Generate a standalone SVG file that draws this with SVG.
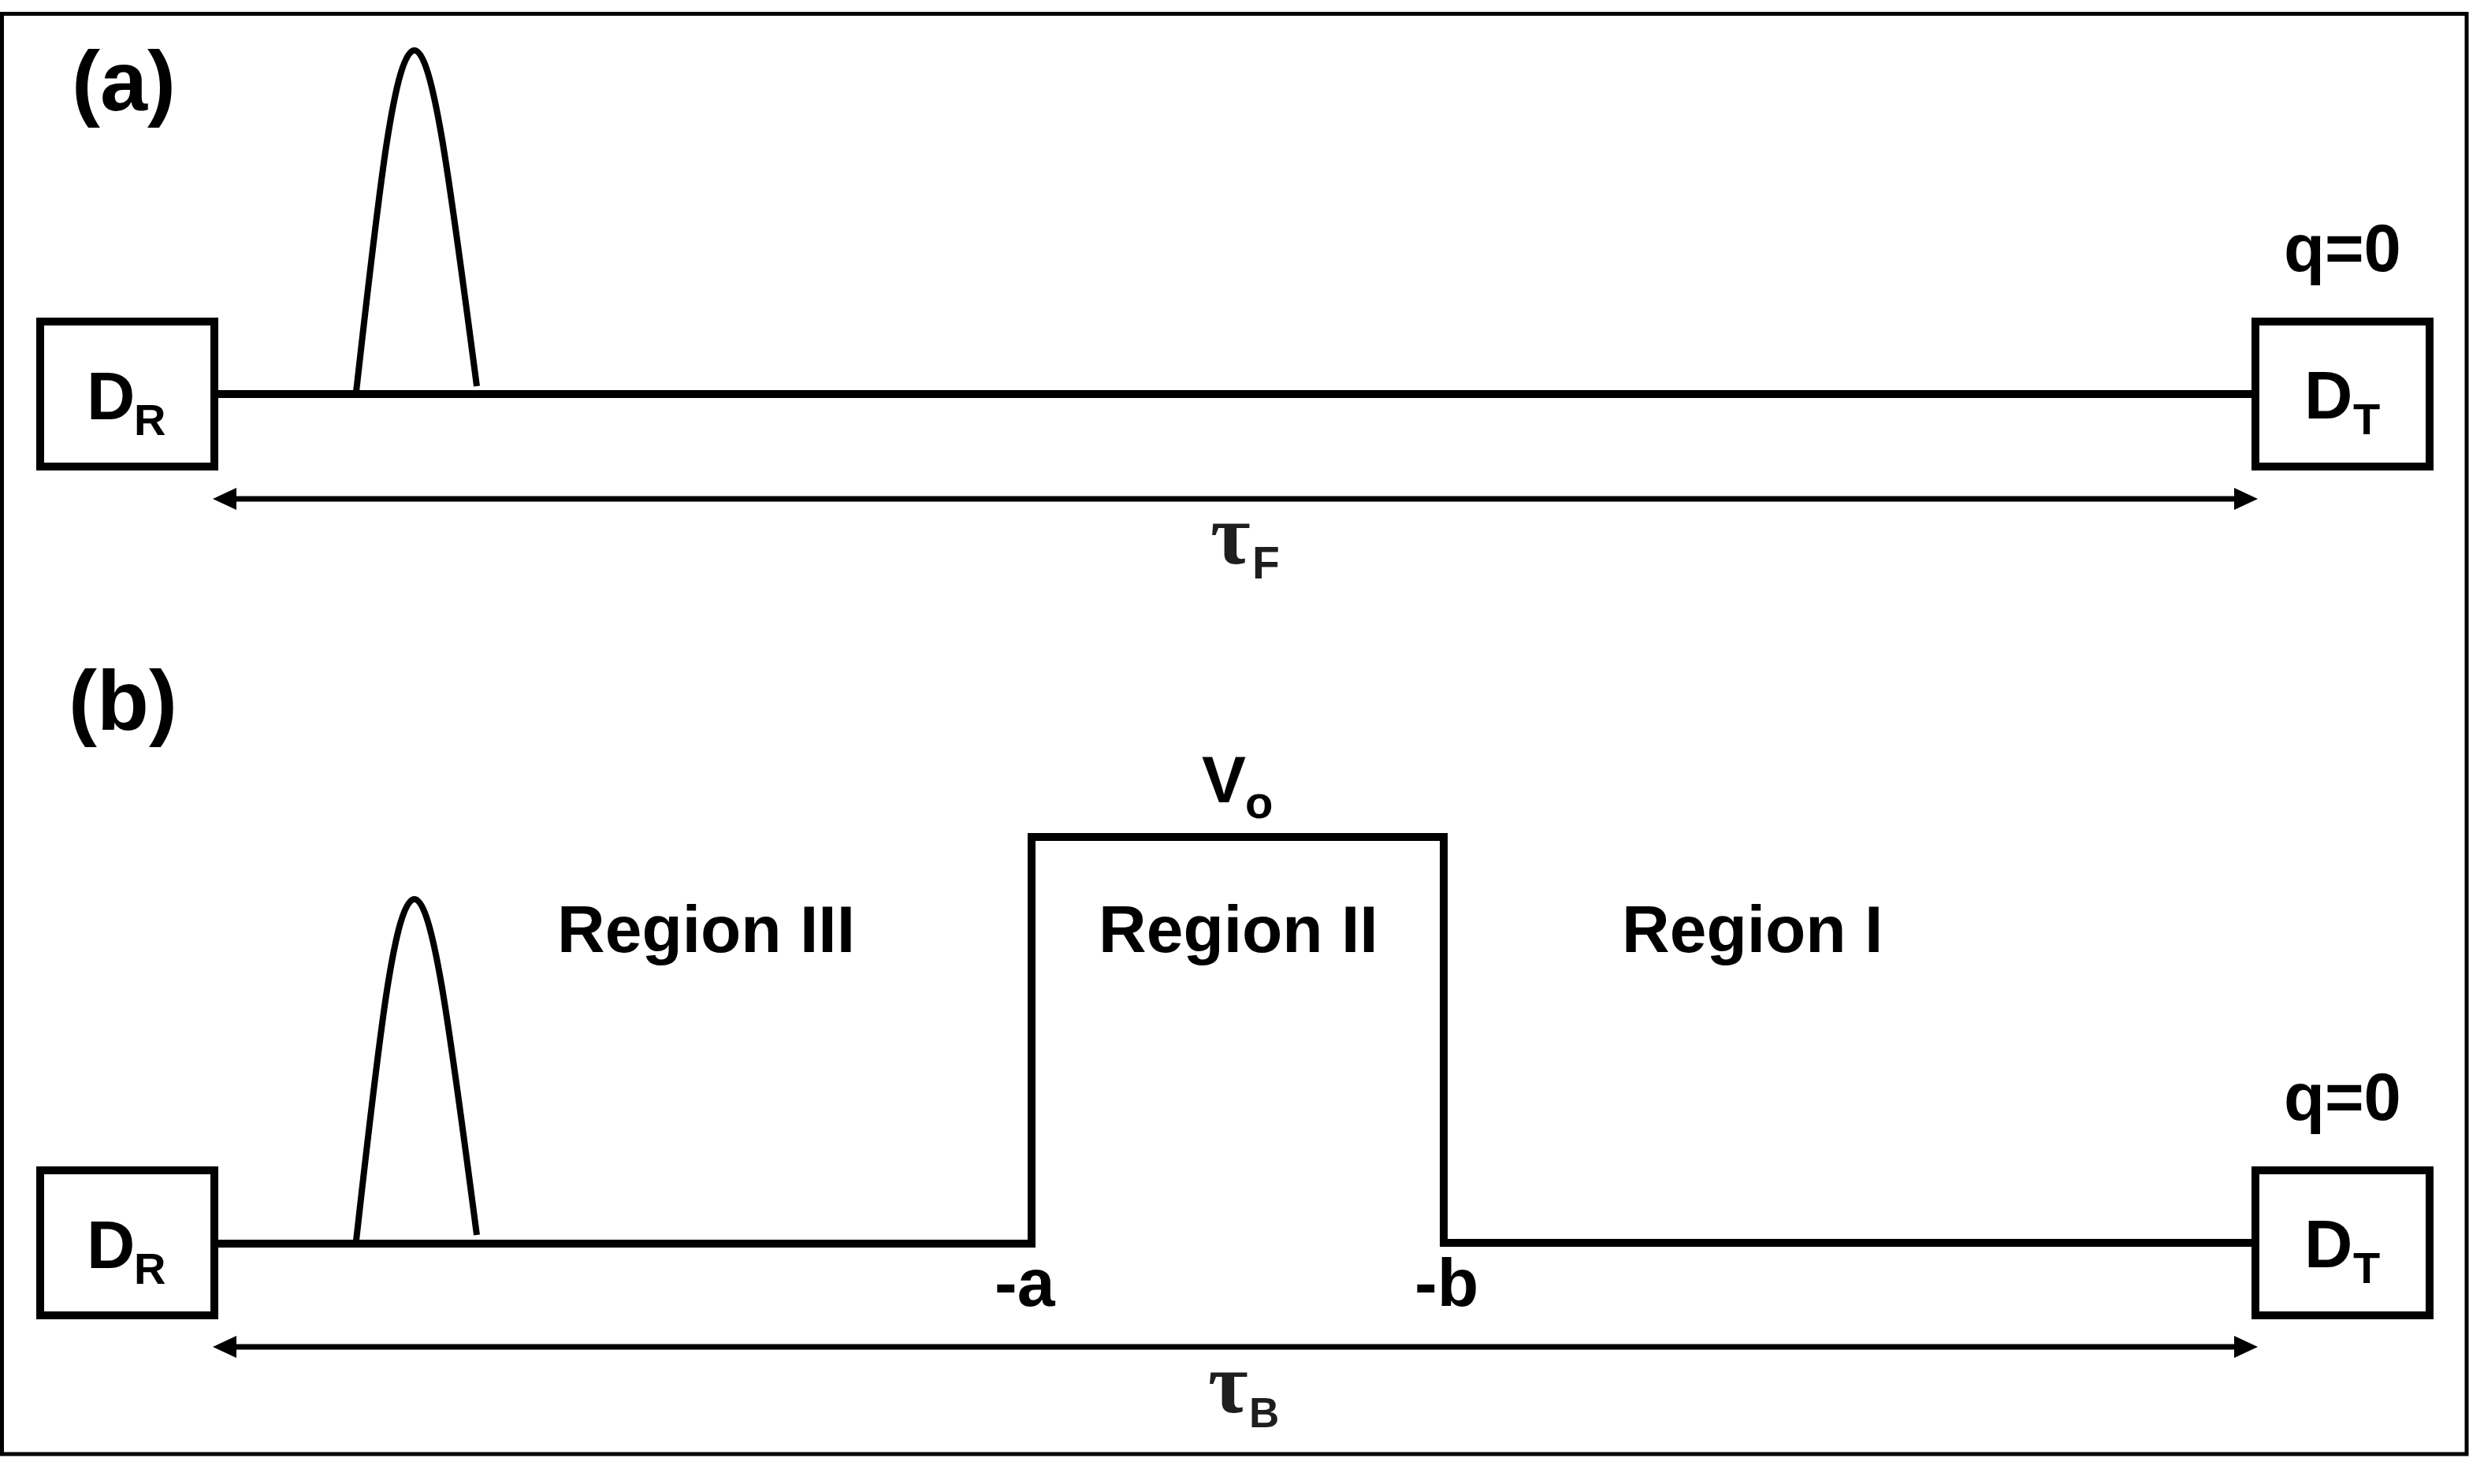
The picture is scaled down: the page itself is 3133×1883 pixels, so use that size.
<svg xmlns="http://www.w3.org/2000/svg" width="3133" height="1883" viewBox="0 0 3133 1883">
<style>
  .box { fill: #ffffff; stroke: #000000; stroke-width: 10; }
  .wire { fill: none; stroke: #000000; stroke-width: 10; stroke-linejoin: miter; stroke-linecap: butt; }
  .pulse { fill: none; stroke: #000000; stroke-width: 8; stroke-linecap: butt; }
  .dim { fill: none; stroke: #000000; stroke-width: 7; }
  .lbl { font-family: "Liberation Sans", Arial, sans-serif; font-weight: bold; fill: #000000; }
  .tau { font-family: "Liberation Serif", "Times New Roman", serif; font-weight: bold; fill: #1e1e1e; }
  .sub { font-family: "Liberation Sans", Arial, sans-serif; font-weight: bold; fill: #1e1e1e; }
</style>
<defs>
  <marker id="ah" markerUnits="userSpaceOnUse" markerWidth="30" markerHeight="30" viewBox="0 -13 28 26" refX="0" refY="0" orient="auto-start-reverse">
    <path d="M0,-13 L28,0 L0,13 Z" fill="#000000"/>
  </marker>
</defs>
<rect width="3133" height="1883" fill="#ffffff"/>
<rect id="frame" x="2.5" y="17.5" width="3127.5" height="1827.5" fill="none" stroke="#000000" stroke-width="5"/>

<g id="connectors">
  <path id="wire-a" class="wire" d="M277,500 H2857"/>
  <path id="wire-b" class="wire" d="M277,1578 H1309 V1062 H1832 V1577 H2862"/>
  <path id="pulse-a" class="pulse" d="M452,497 C480,250 500,64 526,64 C550,64 572,240 605,490"/>
  <path id="pulse-b" class="pulse" d="M452,1574 C480,1327 500,1141 526,1141 C550,1141 572,1317 605,1567"/>
  <path id="tauF-arrow" class="dim" d="M300,633 H2835" marker-start="url(#ah)" marker-end="url(#ah)"/>
  <path id="tauB-arrow" class="dim" d="M300,1709 H2835" marker-start="url(#ah)" marker-end="url(#ah)"/>
</g>

<g id="panel-a">
  <text id="label-a" class="lbl" x="91" y="140" font-size="108">(a)</text>
  <g id="DR-a">
    <rect class="box" x="51" y="408" width="221" height="184"/>
    <text class="lbl" x="110" y="532" font-size="85">D</text>
    <text class="lbl" x="170" y="552" font-size="56">R</text>
  </g>
  <g id="DT-a">
    <rect class="box" x="2862" y="408" width="221" height="184"/>
    <text class="lbl" x="2924" y="531" font-size="85">D</text>
    <text class="lbl" x="2986" y="551" font-size="56">T</text>
  </g>
  <text id="q0-a" class="lbl" x="2898" y="344" font-size="85">q=0</text>
  <g id="tauF">
    <text class="tau" x="1536" y="715" font-size="110">τ</text>
    <text class="sub" x="1589" y="734" font-size="57">F</text>
  </g>
</g>

<g id="panel-b">
  <text id="label-b" class="lbl" x="87" y="926" font-size="108">(b)</text>
  <g id="DR-b">
    <rect class="box" x="51" y="1485" width="221" height="184"/>
    <text class="lbl" x="110" y="1609" font-size="85">D</text>
    <text class="lbl" x="170" y="1629" font-size="56">R</text>
  </g>
  <g id="DT-b">
    <rect class="box" x="2862" y="1485" width="221" height="184"/>
    <text class="lbl" x="2924" y="1608" font-size="85">D</text>
    <text class="lbl" x="2986" y="1628" font-size="56">T</text>
  </g>
  <text id="q0-b" class="lbl" x="2898" y="1421" font-size="85">q=0</text>
  <g id="Vo">
    <text class="lbl" x="1525" y="1018" font-size="84">V</text>
    <text class="lbl" x="1580" y="1038" font-size="58">o</text>
  </g>
  <text id="region-III" class="lbl" x="707" y="1208" font-size="84">Region III</text>
  <text id="region-II" class="lbl" x="1394" y="1208" font-size="84">Region II</text>
  <text id="region-I" class="lbl" x="2058" y="1208" font-size="84">Region I</text>
  <text id="minus-a" class="lbl" x="1262" y="1657" font-size="86">-a</text>
  <text id="minus-b" class="lbl" x="1795" y="1657" font-size="86">-b</text>
  <g id="tauB">
    <text class="tau" x="1533" y="1792" font-size="110">τ</text>
    <text class="sub" x="1585" y="1811" font-size="53">B</text>
  </g>
</g>
</svg>
